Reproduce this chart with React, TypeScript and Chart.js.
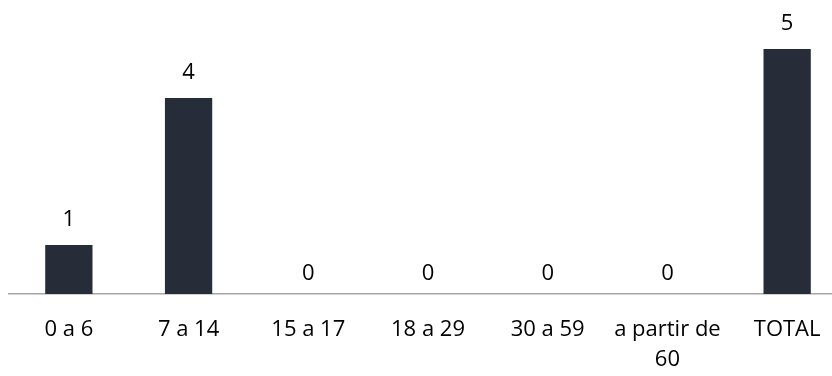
import React, { useEffect, useRef } from "react";
import { Chart, registerables } from "chart.js";

Chart.register(...registerables);

const categories: (string | string[])[] = ["0 a 6", "7 a 14", "15 a 17", "18 a 29", "30 a 59", ["a partir de", "60"], "TOTAL"];
const values: number[] = [1, 4, 0, 0, 0, 0, 5];

const BAR_COLOR = "#262D38";
const AXIS_COLOR = "#A6A6A6";
const TEXT_COLOR = "#000000";
const FONT_FAMILY = "'Open Sans', sans-serif";

const valueLabels = {
  id: "valueLabels",
  afterDatasetsDraw(chart: any) {
    const { ctx } = chart;
    const meta = chart.getDatasetMeta(0);
    ctx.save();
    ctx.font = `22px ${FONT_FAMILY}`;
    ctx.fillStyle = TEXT_COLOR;
    ctx.textAlign = "center";
    ctx.textBaseline = "alphabetic";
    meta.data.forEach((bar: any, i: number) => {
      const v = values[i];
      const off = v === 0 ? 14 : 19;
      ctx.fillText(String(v), bar.x, bar.y - off);
    });
    ctx.restore();
  },
};

export default function App() {
  const ref = useRef<HTMLCanvasElement>(null);
  useEffect(() => {
    if (!ref.current) return;
    const chart = new Chart(ref.current, {
      type: "bar",
      data: {
        labels: categories,
        datasets: [
          {
            data: values,
            backgroundColor: BAR_COLOR,
            barPercentage: 0.79,
            categoryPercentage: 0.5,
          },
        ],
      },
      options: {
        animation: false,
        responsive: false,
        maintainAspectRatio: false,
        layout: { padding: { left: 9, right: 1, top: 0, bottom: 0 } },
        plugins: { legend: { display: false }, tooltip: { enabled: false } },
        scales: {
          y: { display: false, min: 0, max: 6 },
          x: {
            grid: { display: false, drawTicks: false },
            border: { display: true, color: AXIS_COLOR, width: 1.5 },
            ticks: {
              color: TEXT_COLOR,
              font: { family: FONT_FAMILY, size: 22, lineHeight: 1.36 },
              padding: 21,
              maxRotation: 0,
              autoSkip: false,
            },
            afterFit: (scale: any) => {
              scale.height = 82;
            },
          },
        },
      },
      plugins: [valueLabels],
    });
    return () => chart.destroy();
  }, []);
  return (
    <div style={{ position: "absolute", left: 0, top: 0, width: 832, height: 376, overflow: "hidden", background: "#fff" }}>
      <canvas ref={ref} width={848} height={376} style={{ display: "block", width: 848, height: 376 }} />
    </div>
  );
}
